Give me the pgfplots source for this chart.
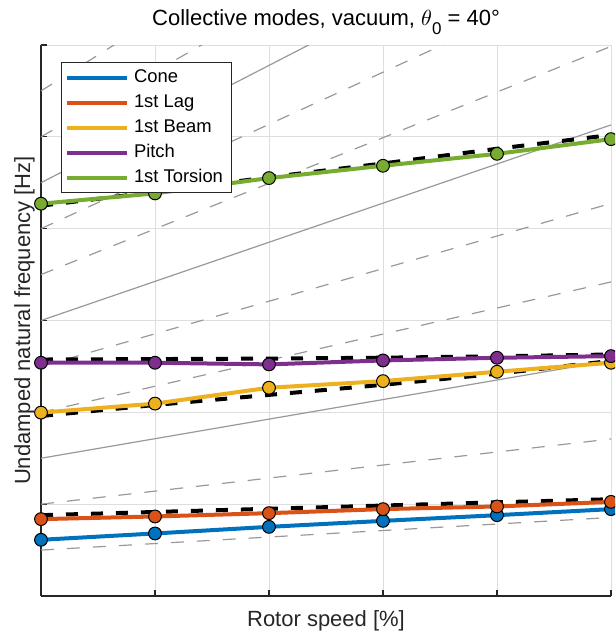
\documentclass[border=0pt]{standalone}
\usepackage{pgfplots}
\pgfplotsset{compat=1.18}
\usepackage{fontspec}
\setmainfont{Liberation Sans}
\definecolor{mBlue}{rgb}{0,0.447,0.741}
\definecolor{mOrange}{rgb}{0.85,0.325,0.098}
\definecolor{mYellow}{rgb}{0.929,0.694,0.125}
\definecolor{mPurple}{rgb}{0.494,0.184,0.556}
\definecolor{mGreen}{rgb}{0.466,0.674,0.188}
\definecolor{axisgray}{rgb}{0.15,0.15,0.15}
\definecolor{gridgray}{rgb}{0.87,0.87,0.87}
\definecolor{fangray}{rgb}{0.6,0.6,0.6}
\begin{document}
\begin{tikzpicture}
\useasboundingbox (-20.5pt,-20pt) rectangle (287pt,298pt);
\clip (-20.5pt,-20pt) rectangle (287pt,298pt);
\begin{axis}[
  scale only axis, width=285pt, height=275.5pt,
  xmin=0, xmax=5, ymin=0, ymax=6,
  xtick={0,1,2,3,4,5}, ytick={0,1,2,3,4,5,6},
  xticklabels={}, yticklabels={},
  axis x line=bottom, axis y line=left,
  axis line style={-, draw=axisgray, line width=0.6pt},
  tick align=inside, major tick length=2.8pt,
  tick style={draw=axisgray, line width=0.6pt},
  grid=major, grid style={draw=gridgray, line width=0.5pt},
  every axis title shift=0pt,
  title={Collective modes, vacuum, $\theta$\raisebox{-0.42em}{\fontsize{8.5}{9}\selectfont 0} = 40°},
  title style={at={(axis description cs:0.5,1)}, anchor=base, yshift=9.7pt, inner sep=0pt, font=\fontsize{11}{13}\selectfont, text=black},
  xlabel={Rotor speed [\%]},
  xlabel style={at={(axis description cs:0.5,0)}, anchor=base, yshift=-15.5pt, inner sep=0pt, font=\fontsize{11}{13}\selectfont, text=axisgray},
  ylabel={Undamped natural frequency [Hz]},
  ylabel style={at={(axis description cs:0,0.5)}, anchor=south, rotate=0, inner sep=3pt, font=\fontsize{11}{13}\selectfont, text=axisgray},
  legend cell align=left,
  legend style={at={(axis description cs:0.0351,0.969)}, anchor=north west,
    draw=axisgray, line width=0.5pt, fill=white,
    inner xsep=1.75pt, inner ysep=1.25pt,
    font=\fontsize{9.2}{10}\selectfont, text=black,
    nodes={inner xsep=2.5pt, inner ysep=1.75pt, text height=7pt, text depth=2pt},
    row sep=0pt},
  legend image code/.code={\draw[#1, mark=none, line width=2pt] (0.5pt,0pt) -- (30.5pt,0pt);},
]
% per-rev fan lines
\addplot[fangray, line width=0.6pt, dash pattern=on 6.5pt off 6.5pt, forget plot] coordinates {(0,0.5) (5,0.855)};
\addplot[fangray, line width=0.6pt, dash pattern=on 6.5pt off 6.5pt, forget plot] coordinates {(0,1.0) (5,1.71)};
\addplot[fangray, line width=0.6pt, forget plot] coordinates {(0,1.5) (5,2.565)};
\addplot[fangray, line width=0.6pt, dash pattern=on 6.5pt off 6.5pt, forget plot] coordinates {(0,2.0) (5,3.42)};
\addplot[fangray, line width=0.6pt, dash pattern=on 6.5pt off 6.5pt, forget plot] coordinates {(0,2.5) (5,4.275)};
\addplot[fangray, line width=0.6pt, forget plot] coordinates {(0,3.0) (5,5.13)};
\addplot[fangray, line width=0.6pt, dash pattern=on 6.5pt off 6.5pt, forget plot] coordinates {(0,3.5) (5,5.985)};
\addplot[fangray, line width=0.6pt, dash pattern=on 6.5pt off 6.5pt, forget plot] coordinates {(0,4.0) (5,6.84)};
\addplot[fangray, line width=0.6pt, forget plot] coordinates {(0,4.5) (5,7.695)};
\addplot[fangray, line width=0.6pt, dash pattern=on 6.5pt off 6.5pt, forget plot] coordinates {(0,5.0) (5,8.55)};
\addplot[fangray, line width=0.6pt, dash pattern=on 6.5pt off 6.5pt, forget plot] coordinates {(0,5.5) (5,9.405)};
\addplot[fangray, line width=0.6pt, forget plot] coordinates {(0,6.0) (5,10.26)};
% black dashed reference curves
\addplot[black, line width=2pt, dash pattern=on 6pt off 6.5pt, forget plot] coordinates {(0,0.88) (1,0.915) (2,0.95) (3,0.985) (4,1.02) (5,1.054)};
\addplot[black, line width=2pt, dash pattern=on 6pt off 6.5pt, forget plot] coordinates {(0,1.96) (1,2.08) (2,2.19) (3,2.30) (4,2.42) (5,2.56)};
\addplot[black, line width=2pt, dash pattern=on 6pt off 6.5pt, forget plot] coordinates {(0,2.575) (1,2.58) (2,2.585) (3,2.595) (4,2.61) (5,2.63)};
\addplot[black, line width=2pt, dash pattern=on 6pt off 6.5pt, forget plot] coordinates {(0,4.25) (1,4.40) (2,4.56) (3,4.71) (4,4.87) (5,5.02)};
% modes
\addplot[mBlue, line width=2pt, mark=*, mark size=3.2pt, mark options={draw=black, line width=0.5pt, fill=mBlue}] coordinates {(0,0.612) (1,0.681) (2,0.753) (3,0.818) (4,0.880) (5,0.946)};
\addlegendentry{Cone}
\addplot[mOrange, line width=2pt, mark=*, mark size=3.2pt, mark options={draw=black, line width=0.5pt, fill=mOrange}] coordinates {(0,0.837) (1,0.866) (2,0.902) (3,0.946) (4,0.975) (5,1.025)};
\addlegendentry{1st Lag}
\addplot[mYellow, line width=2pt, mark=*, mark size=3.2pt, mark options={draw=black, line width=0.5pt, fill=mYellow}] coordinates {(0,1.997) (1,2.095) (2,2.268) (3,2.340) (4,2.442) (5,2.540)};
\addlegendentry{1st Beam}
\addplot[mPurple, line width=2pt, mark=*, mark size=3.2pt, mark options={draw=black, line width=0.5pt, fill=mPurple}] coordinates {(0,2.540) (1,2.540) (2,2.522) (3,2.565) (4,2.594) (5,2.612)};
\addlegendentry{Pitch}
\addplot[mGreen, line width=2pt, mark=*, mark size=3.2pt, mark options={draw=black, line width=0.5pt, fill=mGreen}] coordinates {(0,4.272) (1,4.384) (2,4.551) (3,4.685) (4,4.815) (5,4.975)};
\addlegendentry{1st Torsion}
\end{axis}
\end{tikzpicture}
\end{document}
